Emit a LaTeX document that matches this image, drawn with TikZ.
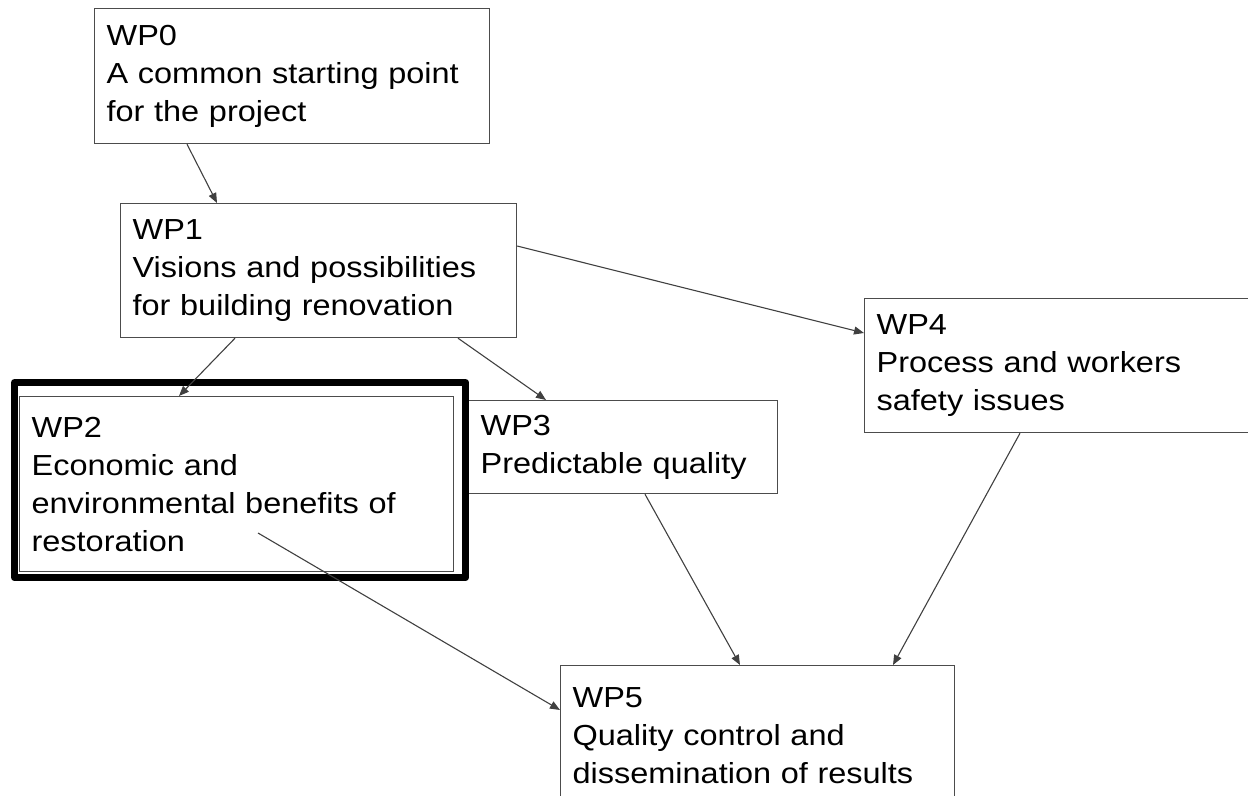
\documentclass[tikz,border=0pt]{standalone}
\usepackage{fontspec}
\setmainfont[FakeStretch=1.12]{Liberation Sans}
\usetikzlibrary{calc,arrows.meta}

\tikzset{
  wpbox/.style={draw=black!70, line width=0.6pt, anchor=north west, align=left,
    inner xsep=6pt, inner ysep=0pt, font=\fontsize{14.5}{19}\selectfont},
  link/.style={draw=black!75, line width=0.55pt, -{Triangle[length=5pt,width=4pt]}},
  frame/.style={draw=black, line width=3.5pt, line join=round}
}

\begin{document}
\begin{tikzpicture}[x=0.5pt,y=-0.5pt]
  \useasboundingbox (0,0) rectangle (1248,796);
  \coordinate(P0) at (94,8);
  \coordinate(P1) at (120,203);
  \coordinate(P2) at (19,396);
  \coordinate(P3) at (468,400);
  \coordinate(P4) at (864,298);
  \coordinate(P5) at (560,665);
  \node[wpbox, text width=185.5pt, minimum height=67.5pt](wp0) at (P0)
    {WP0\\A common starting point\\for the project};
  \node[wpbox, text width=186pt, minimum height=67pt](wp1) at (P1)
    {WP1\\Visions and possibilities\\for building renovation};
  \node[wpbox, text width=205pt, minimum height=87.5pt](wp2) at (P2)
    {WP2\\Economic and\\environmental benefits of\\restoration};
  \node[wpbox, text width=142.5pt, minimum height=46.5pt](wp3) at (P3)
    {WP3\\Predictable quality};
  \node[wpbox, text width=186pt, minimum height=67pt](wp4) at (P4)
    {WP4\\Process and workers\\safety issues};
  \node[wpbox, text width=185pt, minimum height=70pt](wp5) at (P5)
    {WP5\\Quality control and\\dissemination of results};
  % highlighted work package
  \draw[frame]($(wp2.north west)+(-4.5,-13.5)$) rectangle ($(wp2.south east)+(11.5,5.5)$);
  \coordinate(R) at ([xshift=119.5pt,yshift=-68.5pt]wp2.north west);
  \draw[link]([xshift=46.5pt]wp0.south west)--([xshift=48.5pt]wp1.north west);
  \draw[link]([xshift=57.5pt]wp1.south west)--([xshift=80pt]wp2.north west);
  \draw[link]([xshift=169pt]wp1.south west)--([xshift=39pt]wp3.north west);
  \draw[link]([yshift=-21.5pt]wp1.north east)--([yshift=-17.5pt]wp4.north west);
  \draw[link]([xshift=88.5pt]wp3.south west)--([xshift=90pt]wp5.north west);
  \draw[link]([xshift=78pt]wp4.south west)--([xshift=166.5pt]wp5.north west);
  \draw[link](R)--([yshift=-22.5pt]wp5.north west);
\end{tikzpicture}
\end{document}
